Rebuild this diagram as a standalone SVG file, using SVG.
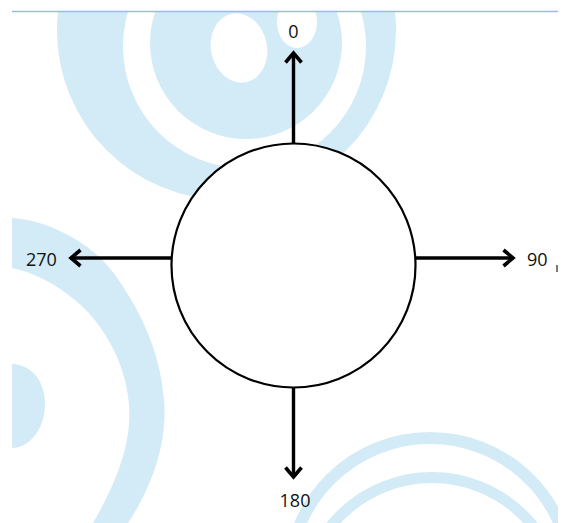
<svg xmlns="http://www.w3.org/2000/svg" width="566" height="523" viewBox="0 0 566 523">
  <style>
    .bg { fill: #d3ebf6; }
    .ring { fill: none; stroke: #d3ebf6; }
    .lbl { font-family: "Open Sans", "Liberation Sans", sans-serif; font-size: 18px; fill: #111; }
    .arrow { stroke: #000; stroke-width: 3.4; fill: none; marker-end: url(#head); }
  </style>
  <defs>
    <clipPath id="area"><rect x="12" y="12" width="546" height="511"/></clipPath>
    <marker id="head" markerUnits="userSpaceOnUse" markerWidth="24" markerHeight="24" viewBox="-14 -12 24 24" refX="0" refY="0" orient="auto">
      <path d="M-9.5,-8 L0,0 L-9.5,8" fill="none" stroke="#000" stroke-width="3.6" stroke-linejoin="miter"/>
    </marker>
  </defs>
  <rect width="566" height="523" fill="#fff"/>
  <g id="watermark" clip-path="url(#area)">
    <circle class="bg" cx="226.5" cy="30.5" r="169.5"/>
    <circle cx="244.5" cy="46.5" r="121.5" fill="#fff"/>
    <circle class="bg" cx="246" cy="43" r="96"/>
    <ellipse cx="239" cy="48" rx="28" ry="35" fill="#fff" transform="rotate(-12 239 48)"/>
    <ellipse cx="297" cy="22" rx="20" ry="26" fill="#fff"/>
    <path class="bg" d="M12,218 C45,220 90,240 115,275 C140,310 160,350 164,400 C168,445 150,490 128,523 L93,523 C115,485 132,445 129,405 C126,360 100,320 75,300 C55,283 32,272 12,268 Z"/>
    <path class="bg" d="M12,364 C30,364 45,380 45,404 C45,428 30,448 12,448 Z"/>
    <circle class="ring" cx="430" cy="579" r="141" stroke-width="12"/>
    <circle class="ring" cx="432" cy="607" r="129.5" stroke-width="11"/>
  </g>
  <line x1="12" y1="11.5" x2="558" y2="11.5" stroke="#9db8f0" stroke-width="1.5"/>
  <line x1="557" y1="265" x2="557" y2="272" stroke="#333" stroke-width="1.3"/>
  <g id="connectors">
    <line class="arrow" x1="293.5" y1="144" x2="293.5" y2="53"/>
    <line class="arrow" x1="415.5" y1="258" x2="513" y2="258"/>
    <line class="arrow" x1="171.5" y1="258" x2="71" y2="258"/>
    <line class="arrow" x1="293.5" y1="387" x2="293.5" y2="477"/>
  </g>
  <g id="center">
    <circle cx="293.5" cy="265.5" r="122" fill="#fff" stroke="#000" stroke-width="2.2"/>
  </g>
  <g id="label-0"><text class="lbl" x="293.5" y="38" text-anchor="middle">0</text></g>
  <g id="label-90"><text class="lbl" x="527" y="266">90</text></g>
  <g id="label-180"><text class="lbl" x="295" y="507" text-anchor="middle">180</text></g>
  <g id="label-270"><text class="lbl" x="26" y="266">270</text></g>
</svg>
